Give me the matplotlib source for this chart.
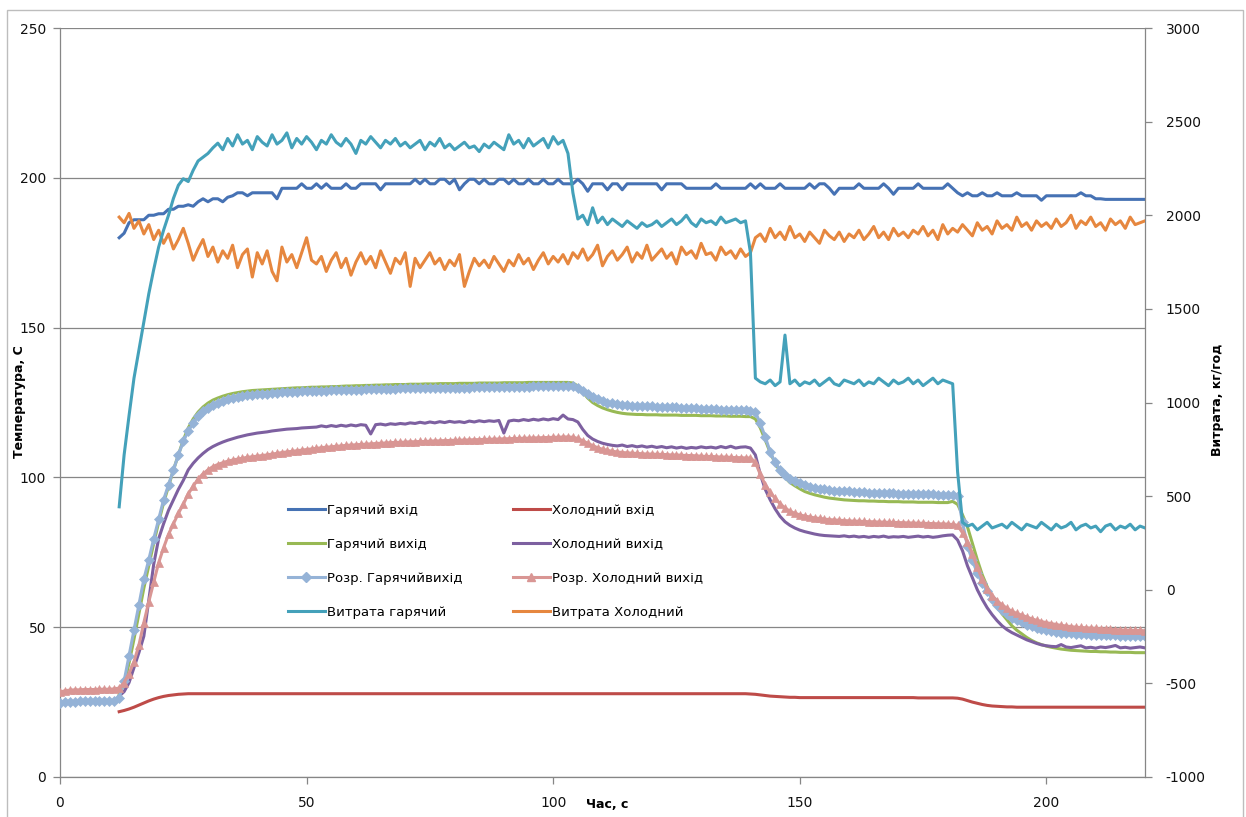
import matplotlib
matplotlib.use("Agg")
import matplotlib.pyplot as plt
from matplotlib.lines import Line2D
from matplotlib.patches import Rectangle

plt.rcParams['font.family'] = ['DejaVu Sans']
plt.rcParams['axes.unicode_minus'] = False

# ---------------- data ----------------
time_meas = list(range(12, 221))   # measured series, s
time_calc = list(range(0, 221))    # calculated series, s

# Гарячий вхід, C
hot_in = [
    180.0, 181.5, 185.0, 186.0, 186.0, 186.0, 187.5, 187.5, 188.0, 188.0,
    189.5, 189.5, 190.5, 190.5, 191.0, 190.5, 192.0, 193.0, 192.0, 193.0,
    193.0, 192.0, 193.5, 194.0, 195.0, 195.0, 194.0, 195.0, 195.0, 195.0,
    195.0, 195.0, 193.0, 196.5, 196.5, 196.5, 196.5, 198.0, 196.5, 196.5,
    198.0, 196.5, 198.0, 196.5, 196.5, 196.5, 198.0, 196.5, 196.5, 198.0,
    198.0, 198.0, 198.0, 196.0, 198.0, 198.0, 198.0, 198.0, 198.0, 198.0,
    199.5, 198.0, 199.5, 198.0, 198.0, 199.5, 199.5, 198.0, 199.5, 196.0,
    198.0, 199.5, 199.5, 198.0, 199.5, 198.0, 198.0, 199.5, 199.5, 198.0,
    199.5, 198.0, 198.0, 199.5, 198.0, 198.0, 199.5, 198.0, 198.0, 199.5,
    198.0, 198.0, 198.0, 199.5, 198.0, 195.5, 198.0, 198.0, 198.0, 196.0,
    198.0, 198.0, 196.0, 198.0, 198.0, 198.0, 198.0, 198.0, 198.0, 198.0,
    196.0, 198.0, 198.0, 198.0, 198.0, 196.5, 196.5, 196.5, 196.5, 196.5,
    196.5, 198.0, 196.5, 196.5, 196.5, 196.5, 196.5, 196.5, 198.0, 196.5,
    198.0, 196.5, 196.5, 196.5, 198.0, 196.5, 196.5, 196.5, 196.5, 196.5,
    198.0, 196.5, 198.0, 198.0, 196.5, 194.5, 196.5, 196.5, 196.5, 196.5,
    198.0, 196.5, 196.5, 196.5, 196.5, 198.0, 196.5, 194.5, 196.5, 196.5,
    196.5, 196.5, 198.0, 196.5, 196.5, 196.5, 196.5, 196.5, 198.0, 196.5,
    195.0, 194.0, 195.0, 194.0, 194.0, 195.0, 194.0, 194.0, 195.0, 194.0,
    194.0, 194.0, 195.0, 194.0, 194.0, 194.0, 194.0, 192.5, 194.0, 194.0,
    194.0, 194.0, 194.0, 194.0, 194.0, 195.0, 194.0, 194.0, 193.0, 193.0,
    192.8, 192.8, 192.8, 192.8, 192.8, 192.8, 192.8, 192.8, 192.8,
]

# Холодний вхід, C
cold_in = [
    21.8, 22.2, 22.7, 23.3, 24.0, 24.7, 25.4, 26.0, 26.5, 26.9,
    27.2, 27.4, 27.6, 27.7, 27.8, 27.8, 27.8, 27.8, 27.8, 27.8,
    27.8, 27.8, 27.8, 27.8, 27.8, 27.8, 27.8, 27.8, 27.8, 27.8,
    27.8, 27.8, 27.8, 27.8, 27.8, 27.8, 27.8, 27.8, 27.8, 27.8,
    27.8, 27.8, 27.8, 27.8, 27.8, 27.8, 27.8, 27.8, 27.8, 27.8,
    27.8, 27.8, 27.8, 27.8, 27.8, 27.8, 27.8, 27.8, 27.8, 27.8,
    27.8, 27.8, 27.8, 27.8, 27.8, 27.8, 27.8, 27.8, 27.8, 27.8,
    27.8, 27.8, 27.8, 27.8, 27.8, 27.8, 27.8, 27.8, 27.8, 27.8,
    27.8, 27.8, 27.8, 27.8, 27.8, 27.8, 27.8, 27.8, 27.8, 27.8,
    27.8, 27.8, 27.8, 27.8, 27.8, 27.8, 27.8, 27.8, 27.8, 27.8,
    27.8, 27.8, 27.8, 27.8, 27.8, 27.8, 27.8, 27.8, 27.8, 27.8,
    27.8, 27.8, 27.8, 27.8, 27.8, 27.8, 27.8, 27.8, 27.8, 27.8,
    27.8, 27.8, 27.8, 27.8, 27.8, 27.8, 27.8, 27.8, 27.7, 27.6,
    27.4, 27.2, 27.0, 26.9, 26.8, 26.7, 26.6, 26.6, 26.5, 26.5,
    26.5, 26.5, 26.5, 26.5, 26.5, 26.5, 26.5, 26.5, 26.5, 26.5,
    26.5, 26.5, 26.5, 26.5, 26.5, 26.5, 26.5, 26.5, 26.5, 26.5,
    26.5, 26.5, 26.4, 26.4, 26.4, 26.4, 26.4, 26.4, 26.4, 26.4,
    26.3, 26.0, 25.5, 25.0, 24.6, 24.2, 23.9, 23.7, 23.6, 23.5,
    23.4, 23.4, 23.3, 23.3, 23.3, 23.3, 23.3, 23.3, 23.3, 23.3,
    23.3, 23.3, 23.3, 23.3, 23.3, 23.3, 23.3, 23.3, 23.3, 23.3,
    23.3, 23.3, 23.3, 23.3, 23.3, 23.3, 23.3, 23.3, 23.3,
]

# Гарячий вихід, C
hot_out = [
    27.5, 31.0, 38.0, 46.0, 54.5, 63.0, 70.5, 78.0, 85.0, 91.5,
    97.0, 102.5, 107.5, 112.5, 116.5, 119.5, 121.8, 123.5, 124.8, 125.8,
    126.5, 127.1, 127.6, 128.0, 128.3, 128.6, 128.8, 129.0, 129.1, 129.2,
    129.3, 129.4, 129.5, 129.6, 129.7, 129.8, 129.9, 129.9, 130.0, 130.1,
    130.1, 130.2, 130.2, 130.3, 130.3, 130.4, 130.5, 130.5, 130.6, 130.6,
    130.7, 130.7, 130.8, 130.8, 130.9, 130.9, 131.0, 131.0, 131.0, 131.1,
    131.1, 131.1, 131.2, 131.2, 131.2, 131.3, 131.3, 131.3, 131.3, 131.4,
    131.4, 131.4, 131.4, 131.5, 131.5, 131.5, 131.5, 131.5, 131.6, 131.6,
    131.6, 131.6, 131.6, 131.7, 131.7, 131.7, 131.7, 131.7, 131.7, 131.7,
    131.7, 131.7, 131.5, 130.5, 128.5, 126.5, 125.0, 124.0, 123.2, 122.6,
    122.1, 121.7, 121.4, 121.2, 121.1, 121.0, 121.0, 120.9, 120.9, 120.9,
    120.8, 120.8, 120.8, 120.8, 120.7, 120.7, 120.7, 120.7, 120.6, 120.6,
    120.6, 120.5, 120.5, 120.5, 120.4, 120.4, 120.4, 120.3, 120.3, 119.5,
    116.5, 112.5, 108.3, 104.8, 102.0, 100.0, 98.3, 97.2, 96.2, 95.3,
    94.7, 94.2, 93.8, 93.4, 93.1, 92.9, 92.7, 92.5, 92.4, 92.3,
    92.2, 92.2, 92.1, 92.1, 92.0, 92.0, 91.9, 91.9, 91.9, 91.8,
    91.8, 91.8, 91.7, 91.7, 91.7, 91.7, 91.6, 91.6, 91.6, 92.0,
    91.0, 87.5, 83.5, 78.0, 72.5, 67.5, 63.5, 60.0, 57.0, 54.5,
    52.5, 50.5, 49.0, 47.8, 46.6, 45.6, 44.8, 44.2, 43.7, 43.3,
    43.0, 42.7, 42.5, 42.3, 42.2, 42.1, 42.0, 41.9, 41.9, 41.8,
    41.8, 41.7, 41.7, 41.6, 41.6, 41.6, 41.5, 41.5, 41.5,
]

# Холодний вихід, C
cold_out = [
    27.0, 28.5, 31.5, 36.5, 41.5, 47.0, 59.0, 71.0, 79.5, 84.5,
    89.0, 92.5, 96.0, 99.0, 102.5, 104.7, 106.5, 108.0, 109.3, 110.3,
    111.1, 111.8, 112.4, 112.9, 113.4, 113.8, 114.2, 114.5, 114.8, 115.0,
    115.2, 115.5, 115.7, 115.9, 116.1, 116.2, 116.3, 116.5, 116.6, 116.7,
    116.8, 117.2, 116.9, 117.3, 117.0, 117.4, 117.1, 117.5, 117.2, 117.6,
    117.4, 114.5, 117.6, 117.8, 117.5, 117.9, 117.7, 118.0, 117.8, 118.2,
    118.0, 118.4, 118.1, 118.5, 118.2, 118.6, 118.3, 118.7, 118.4, 118.6,
    118.3, 118.8, 118.5, 118.9, 118.6, 118.9, 118.7, 119.0, 114.8, 118.8,
    119.1, 118.9, 119.3, 119.0, 119.4, 119.1, 119.5, 119.2, 119.6, 119.3,
    120.8, 119.5, 119.3, 118.5, 116.0, 114.0, 112.8, 112.0, 111.4, 111.0,
    110.7, 110.5, 110.8, 110.3, 110.6, 110.2, 110.5, 110.1, 110.4, 110.0,
    110.3, 109.9, 110.2, 109.8, 110.1, 109.7, 110.0, 109.8, 110.2, 109.9,
    110.1, 109.8, 110.3, 109.9, 110.4, 109.8, 110.1, 110.2, 109.8, 107.5,
    101.0, 96.0, 92.5, 89.5, 87.0, 85.2, 84.0, 83.1, 82.4, 81.9,
    81.5, 81.1, 80.8, 80.6, 80.5, 80.4, 80.3, 80.5, 80.2, 80.4,
    80.1, 80.3, 80.0, 80.3, 80.1, 80.4, 80.0, 80.2, 80.1, 80.3,
    80.0, 80.2, 80.4, 80.1, 80.3, 80.0, 80.2, 80.5, 80.7, 80.8,
    79.1, 75.5, 70.5, 66.5, 62.5, 59.3, 56.5, 54.2, 52.2, 50.5,
    49.2, 48.2, 47.4, 46.6, 45.8, 45.2, 44.6, 44.1, 43.8, 43.6,
    43.5, 44.2, 43.4, 43.2, 43.5, 43.8, 43.1, 43.3, 43.0, 43.4,
    43.2, 43.5, 43.9, 43.1, 43.3, 43.0, 43.2, 43.4, 43.1,
]

# Розр. Гарячий вихід, C
calc_hot_out = [
    24.8, 25.0, 25.2, 25.2, 25.3, 25.3, 25.3, 25.4, 25.4, 25.4,
    25.5, 25.5, 26.5, 32.0, 40.5, 49.0, 57.5, 66.0, 72.5, 79.5,
    86.0, 92.5, 97.5, 102.5, 107.5, 112.0, 115.5, 118.0, 120.5, 122.0,
    123.3, 124.3, 125.0, 125.6, 126.1, 126.5, 126.8, 127.1, 127.4, 127.6,
    127.8, 127.9, 128.0, 128.1, 128.3, 128.4, 128.4, 128.5, 128.6, 128.7,
    128.8, 128.8, 128.9, 129.0, 129.0, 129.1, 129.1, 129.2, 129.2, 129.3,
    129.3, 129.3, 129.4, 129.4, 129.5, 129.5, 129.5, 129.6, 129.6, 129.7,
    129.7, 129.7, 129.8, 129.8, 129.8, 129.8, 129.9, 129.9, 129.9, 129.9,
    130.0, 130.0, 130.0, 130.0, 130.1, 130.1, 130.1, 130.1, 130.2, 130.2,
    130.2, 130.2, 130.3, 130.3, 130.3, 130.3, 130.4, 130.4, 130.4, 130.5,
    130.5, 130.5, 130.6, 130.6, 130.4, 130.0, 129.0, 128.0, 127.0, 126.2,
    125.5, 125.0, 124.7, 124.4, 124.2, 124.0, 123.9, 123.8, 123.8, 123.7,
    123.7, 123.6, 123.6, 123.6, 123.5, 123.4, 123.3, 123.2, 123.1, 123.0,
    122.9, 122.8, 122.8, 122.7, 122.6, 122.6, 122.5, 122.5, 122.4, 122.4,
    122.3, 121.8, 118.0, 113.5, 108.5, 105.0, 102.5, 100.8, 99.6, 98.8,
    98.0, 97.4, 96.9, 96.5, 96.2, 96.0, 95.8, 95.6, 95.5, 95.4,
    95.3, 95.2, 95.1, 95.0, 94.9, 94.9, 94.8, 94.8, 94.7, 94.7,
    94.6, 94.6, 94.5, 94.5, 94.4, 94.4, 94.3, 94.3, 94.2, 94.2,
    94.1, 94.1, 93.8, 85.0, 77.0, 72.4, 68.0, 64.7, 62.0, 59.5,
    57.5, 55.8, 54.3, 53.2, 52.4, 51.6, 50.9, 50.3, 49.8, 49.4,
    49.0, 48.7, 48.4, 48.2, 48.0, 47.9, 47.8, 47.7, 47.6, 47.5,
    47.5, 47.4, 47.4, 47.3, 47.3, 47.2, 47.2, 47.1, 47.1, 47.0,
    47.0,
]

# Розр. Холодний вихід, C
calc_cold_out = [
    28.3, 28.8, 29.0, 29.1, 29.1, 29.2, 29.2, 29.2, 29.3, 29.3,
    29.3, 29.4, 29.7, 31.5, 34.5, 38.5, 44.0, 51.5, 58.5, 65.0,
    71.5, 76.5, 81.0, 84.5, 88.0, 91.0, 94.5, 97.0, 99.5, 101.2,
    102.5, 103.6, 104.3, 104.9, 105.4, 105.8, 106.1, 106.4, 106.7, 106.9,
    107.1, 107.3, 107.5, 107.8, 108.0, 108.3, 108.5, 108.7, 108.9, 109.1,
    109.3, 109.5, 109.7, 109.9, 110.1, 110.2, 110.4, 110.5, 110.7, 110.8,
    110.9, 111.0, 111.1, 111.2, 111.3, 111.4, 111.5, 111.6, 111.7, 111.7,
    111.8, 111.9, 111.9, 112.0, 112.0, 112.1, 112.2, 112.2, 112.3, 112.3,
    112.4, 112.4, 112.5, 112.5, 112.6, 112.6, 112.7, 112.7, 112.8, 112.8,
    112.9, 112.9, 113.0, 113.0, 113.1, 113.1, 113.2, 113.2, 113.3, 113.3,
    113.4, 113.4, 113.5, 113.5, 113.4, 113.0, 112.2, 111.4, 110.6, 109.9,
    109.4, 109.0, 108.7, 108.5, 108.3, 108.2, 108.1, 108.0, 107.9, 107.8,
    107.8, 107.7, 107.7, 107.6, 107.5, 107.5, 107.4, 107.3, 107.3, 107.2,
    107.1, 107.0, 107.0, 106.9, 106.8, 106.8, 106.7, 106.6, 106.6, 106.5,
    106.5, 105.0, 101.0, 97.5, 95.0, 93.0, 91.2, 89.8, 88.7, 88.0,
    87.5, 87.1, 86.8, 86.5, 86.3, 86.1, 85.9, 85.8, 85.7, 85.6,
    85.5, 85.4, 85.4, 85.3, 85.2, 85.2, 85.1, 85.1, 85.0, 85.0,
    84.9, 84.9, 84.8, 84.8, 84.7, 84.7, 84.6, 84.6, 84.5, 84.5,
    84.4, 84.3, 84.0, 81.5, 78.5, 74.5, 70.0, 66.0, 62.8, 60.5,
    58.8, 57.5, 56.3, 55.3, 54.6, 54.0, 53.4, 52.8, 52.3, 51.9,
    51.5, 51.2, 50.9, 50.6, 50.4, 50.2, 50.0, 49.9, 49.8, 49.7,
    49.6, 49.5, 49.4, 49.3, 49.2, 49.1, 49.0, 49.0, 48.9, 48.9,
    48.8,
]

# Витрата гарячий, кг/год
flow_hot = [
    443, 720, 930, 1130, 1280, 1430, 1580, 1710, 1830, 1920,
    2000, 2090, 2160, 2195, 2180, 2240, 2290, 2310, 2330, 2360,
    2385, 2350, 2410, 2370, 2430, 2380, 2400, 2350, 2420, 2390,
    2370, 2430, 2380, 2400, 2440, 2360, 2410, 2380, 2420, 2390,
    2350, 2400, 2380, 2430, 2390, 2370, 2410, 2380, 2330, 2400,
    2380, 2420, 2390, 2360, 2400, 2380, 2410, 2370, 2390, 2360,
    2380, 2400, 2350, 2390, 2370, 2410, 2360, 2380, 2350, 2370,
    2390, 2360, 2370, 2340, 2380, 2360, 2390, 2370, 2350, 2430,
    2380, 2400, 2360, 2410, 2370, 2390, 2410, 2360, 2420, 2380,
    2400, 2330, 2120, 1980, 2000, 1950, 2040, 1960, 1990, 1950,
    1980, 1960, 1940, 1970, 1950, 1930, 1960, 1940, 1950, 1970,
    1940, 1960, 1980, 1950, 1970, 2000, 1960, 1940, 1980, 1960,
    1970, 1950, 1990, 1960, 1970, 1980, 1960, 1970, 1800, 1130,
    1110, 1100, 1120, 1090, 1110, 1360, 1100, 1120, 1090, 1110,
    1100, 1120, 1090, 1110, 1130, 1100, 1090, 1120, 1110, 1100,
    1120, 1090, 1110, 1100, 1130, 1110, 1090, 1120, 1100, 1110,
    1130, 1100, 1120, 1090, 1110, 1130, 1100, 1120, 1110, 1100,
    630, 360, 340, 350, 320, 340, 360, 330, 340, 350,
    330, 360, 340, 320, 350, 340, 330, 360, 340, 320,
    350, 330, 340, 360, 320, 340, 350, 330, 340, 310,
    340, 350, 320, 340, 330, 350, 320, 340, 330,
]

# Витрата Холодний, кг/год
flow_cold = [
    1990, 1960, 2010, 1930, 1970, 1900, 1950, 1870, 1920, 1850,
    1900, 1820, 1870, 1930, 1850, 1760, 1820, 1870, 1780, 1830,
    1750, 1810, 1770, 1840, 1720, 1790, 1820, 1670, 1800, 1740,
    1810, 1700, 1650, 1830, 1750, 1790, 1720, 1800, 1880, 1760,
    1740, 1780, 1700, 1760, 1800, 1720, 1770, 1680, 1750, 1800,
    1740, 1780, 1720, 1810, 1750, 1690, 1770, 1740, 1800, 1620,
    1770, 1720, 1760, 1800, 1740, 1770, 1710, 1760, 1730, 1790,
    1620, 1700, 1770, 1730, 1760, 1720, 1780, 1740, 1700, 1760,
    1730, 1790, 1740, 1770, 1710, 1760, 1800, 1740, 1780, 1750,
    1790, 1740, 1800, 1770, 1820, 1760, 1790, 1840, 1730, 1780,
    1810, 1760, 1790, 1830, 1750, 1800, 1770, 1840, 1760, 1790,
    1820, 1770, 1800, 1740, 1830, 1790, 1810, 1770, 1850, 1790,
    1800, 1760, 1830, 1790, 1810, 1770, 1820, 1780, 1800, 1880,
    1900, 1860, 1930, 1880, 1910, 1870, 1940, 1880, 1900, 1860,
    1910, 1880, 1850, 1920, 1890, 1870, 1910, 1860, 1900, 1880,
    1920, 1870, 1900, 1940, 1880, 1910, 1870, 1930, 1890, 1910,
    1880, 1920, 1900, 1940, 1890, 1920, 1870, 1950, 1900, 1930,
    1910, 1950, 1920, 1890, 1960, 1920, 1940, 1900, 1970, 1930,
    1950, 1920, 1990, 1940, 1960, 1920, 1970, 1940, 1960, 1930,
    1980, 1940, 1960, 2000, 1930, 1970, 1950, 1990, 1940, 1960,
    1920, 1980, 1950, 1970, 1930, 1990, 1950, 1960, 1970,
]

labels = ["Гарячий вхід", "Холодний вхід", "Гарячий вихід", "Холодний вихід",
          "Розр. Гарячийвихід", "Розр. Холодний вихід",
          "Витрата гарячий", "Витрата Холодний"]
x_ticks = [0, 50, 100, 150, 200]
y_left_ticks = [0, 50, 100, 150, 200, 250]
y_right_ticks = [-1000, -500, 0, 500, 1000, 1500, 2000, 2500, 3000]

# ---------------- style ----------------
C_HOT_IN = '#4672B4'
C_COLD_IN = '#BE4B48'
C_HOT_OUT = '#98B954'
C_COLD_OUT = '#7D60A0'
C_CALC_HOT = '#95B3D7'
C_CALC_COLD = '#D99694'
C_FLOW_HOT = '#44A1BA'
C_FLOW_COLD = '#E6873F'
GRID = '#868686'
LW = 2.2

W, H = 1246, 817
fig = plt.figure(figsize=(W / 100, H / 100), dpi=100)
L, R, B, T = 60, 1145, 777, 28
ax = fig.add_axes([L / W, 1 - B / H, (R - L) / W, (B - T) / H])
ax2 = ax.twinx()


def fit(t, v):
    n = min(len(t), len(v))
    return t[:n], v[:n]


ax.plot(*fit(time_meas, hot_in), color=C_HOT_IN, lw=LW, zorder=3)
ax.plot(*fit(time_meas, cold_in), color=C_COLD_IN, lw=LW, zorder=3)
ax.plot(*fit(time_meas, hot_out), color=C_HOT_OUT, lw=LW, zorder=3)
ax.plot(*fit(time_meas, cold_out), color=C_COLD_OUT, lw=LW, zorder=3)
ax.plot(*fit(time_calc, calc_hot_out), color=C_CALC_HOT, lw=LW, marker='D',
        ms=4.6, mfc=C_CALC_HOT, mec=C_CALC_HOT, mew=0.5, zorder=4)
ax.plot(*fit(time_calc, calc_cold_out), color=C_CALC_COLD, lw=LW, marker='^',
        ms=5.5, mfc=C_CALC_COLD, mec=C_CALC_COLD, mew=0.5, zorder=4)
ax2.plot(*fit(time_meas, flow_cold), color=C_FLOW_COLD, lw=LW, zorder=3)
ax2.plot(*fit(time_meas, flow_hot), color=C_FLOW_HOT, lw=LW, zorder=4)

ax.set_xlim(0, 220)
ax.set_ylim(0, 250)
ax2.set_ylim(-1000, 3000)
ax.set_xticks(x_ticks)
ax.set_yticks(y_left_ticks)
ax2.set_yticks(y_right_ticks)

ax.yaxis.grid(True, color=GRID, lw=0.9)
ax.set_axisbelow(True)

for a in (ax, ax2):
    a.spines['top'].set_visible(False)
    for s in a.spines.values():
        s.set_color(GRID)
        s.set_linewidth(0.9)
ax2.spines['left'].set_visible(False)
ax2.spines['bottom'].set_visible(False)
ax.spines['right'].set_visible(False)

ax.tick_params(axis='both', direction='out', length=5, width=0.9, color=GRID,
               labelsize=10, pad=5, labelcolor='#111111')
ax.tick_params(axis='x', pad=9)
ax2.tick_params(axis='y', direction='out', length=5, width=0.9, color=GRID,
                labelsize=10, pad=10, labelcolor='#111111')

# axis titles
fig.text(20 / W, 1 - 402 / H, "Температура, С", rotation=90, ha='center', va='center',
         fontsize=9, fontweight='bold')
fig.text(1218 / W, 1 - 400 / H, "Витрата, кг/год", rotation=90, ha='center', va='center',
         fontsize=9, fontweight='bold')
fig.text(607 / W, 1 - 804 / H, "Час, с", ha='center', va='center',
         fontsize=9, fontweight='bold')

# legend (two columns placed separately)
def h(color, marker=None, ms=0):
    return Line2D([], [], color=color, lw=LW, marker=marker, ms=ms, mfc=color, mec=color)

col1 = [h(C_HOT_IN), h(C_HOT_OUT), h(C_CALC_HOT, 'D', 4.6), h(C_FLOW_HOT)]
col2 = [h(C_COLD_IN), h(C_COLD_OUT), h(C_CALC_COLD, '^', 5.5), h(C_FLOW_COLD)]
lab1 = [labels[0], labels[2], labels[4], labels[6]]
lab2 = [labels[1], labels[3], labels[5], labels[7]]
common = dict(loc='upper left', bbox_transform=fig.transFigure, frameon=False,
              borderaxespad=0, borderpad=0, handlelength=2.8, handletextpad=0.15,
              labelspacing=1.58, fontsize=9.5)
leg1 = ax2.legend(col1, lab1, bbox_to_anchor=(288 / W, 1 - 504 / H), **common)
ax2.add_artist(leg1)
leg2 = ax2.legend(col2, lab2, bbox_to_anchor=(513 / W, 1 - 504 / H), **common)

# chart-area border
fig.add_artist(Rectangle((7 / W, -0.02), 1236 / W, 1 - 10 / H + 0.02,
                         transform=fig.transFigure, fill=False, ec='#BDBDBD', lw=1.0))

fig.savefig("out.png", dpi=100)
